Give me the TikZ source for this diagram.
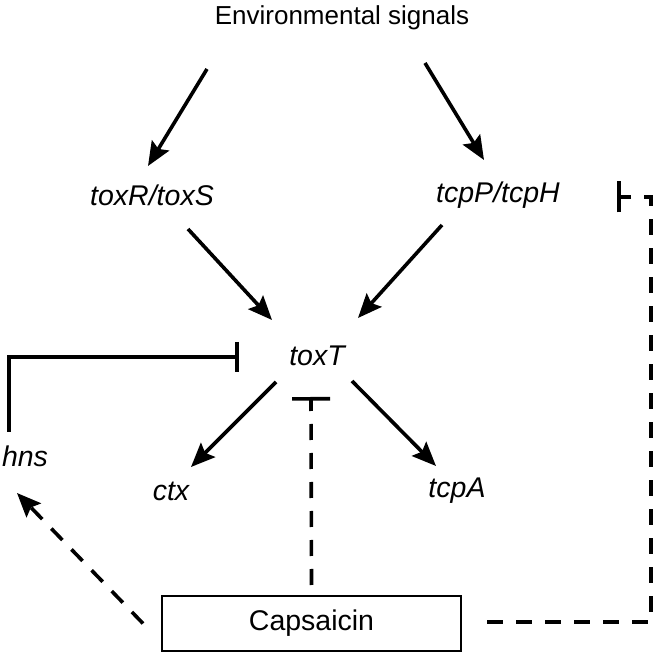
\documentclass[tikz,border=0pt]{standalone}
\usepackage{fontspec}
\setmainfont{Liberation Sans}
\usetikzlibrary{arrows.meta}
\begin{document}
\begin{tikzpicture}[x=1pt,y=-1pt,
  lbl/.style={inner sep=0pt,font=\fontsize{28.5}{32}\selectfont},
  gene/.style={lbl,font=\fontsize{28.5}{32}\selectfont\itshape},
  arr/.style={line width=3.6pt,-{Stealth[length=24pt,width=20pt,inset=4pt]}},
  inh/.style={line width=3.6pt,-{Bar[width=#1]}},
  dsh/.style={dash pattern=on 16pt off 13pt}]
\useasboundingbox (0,0) rectangle (657,652);
\node[lbl,font=\fontsize{26}{30}\selectfont] (env) at (342,18) {Environmental signals};
\node[gene] (toxR) at (152,195) {toxR/toxS};
\node[gene] (tcpP) at (498,195) {tcpP/tcpH};
\node[gene] (toxT) at (317,356) {toxT};
\node[gene] (hns) at (25,456) {hns};
\node[gene] (ctx) at (171,491) {ctx};
\node[gene] (tcpA) at (457,491) {tcpA};
\node[lbl,draw,line width=2pt,minimum width=299pt,minimum height=55pt] (caps) at (311.5,623.5) {Capsaicin};

\draw[arr] ([xshift=-135pt,yshift=-51pt]env.center) -- ([xshift=-4pt,yshift=29pt]toxR.center);
\draw[arr] ([xshift=83pt,yshift=-45pt]env.center) -- ([xshift=-14pt,yshift=35pt]tcpP.center);
\draw[arr] ([xshift=36pt,yshift=-34pt]toxR.center) -- ([xshift=-45pt,yshift=36pt]toxT.center);
\draw[arr] ([xshift=-56pt,yshift=-30pt]tcpP.center) -- ([xshift=41pt,yshift=38pt]toxT.center);
\draw[arr] ([xshift=-41pt,yshift=-26pt]toxT.center) -- ([xshift=20pt,yshift=24pt]ctx.center);
\draw[arr] ([xshift=35pt,yshift=-25pt]toxT.center) -- ([xshift=-21pt,yshift=25pt]tcpA.center);

\draw[inh=30pt] ([xshift=-16pt,yshift=24pt]hns.center) |- ([xshift=-78pt,yshift=-1pt]toxT.center);
\draw[inh=38pt,dsh] ([yshift=10pt]caps.north) -- ([xshift=-6pt,yshift=-41pt]toxT.center);
\draw[arr,dsh] ([xshift=-18pt]caps.west) -- ([xshift=-8pt,yshift=-37pt]hns.center);
\draw[inh=31pt,dsh] ([xshift=25pt,yshift=1.5pt]caps.east) -- (651,622) |- ([xshift=119pt,yshift=-2pt]tcpP.center);
\end{tikzpicture}
\end{document}
